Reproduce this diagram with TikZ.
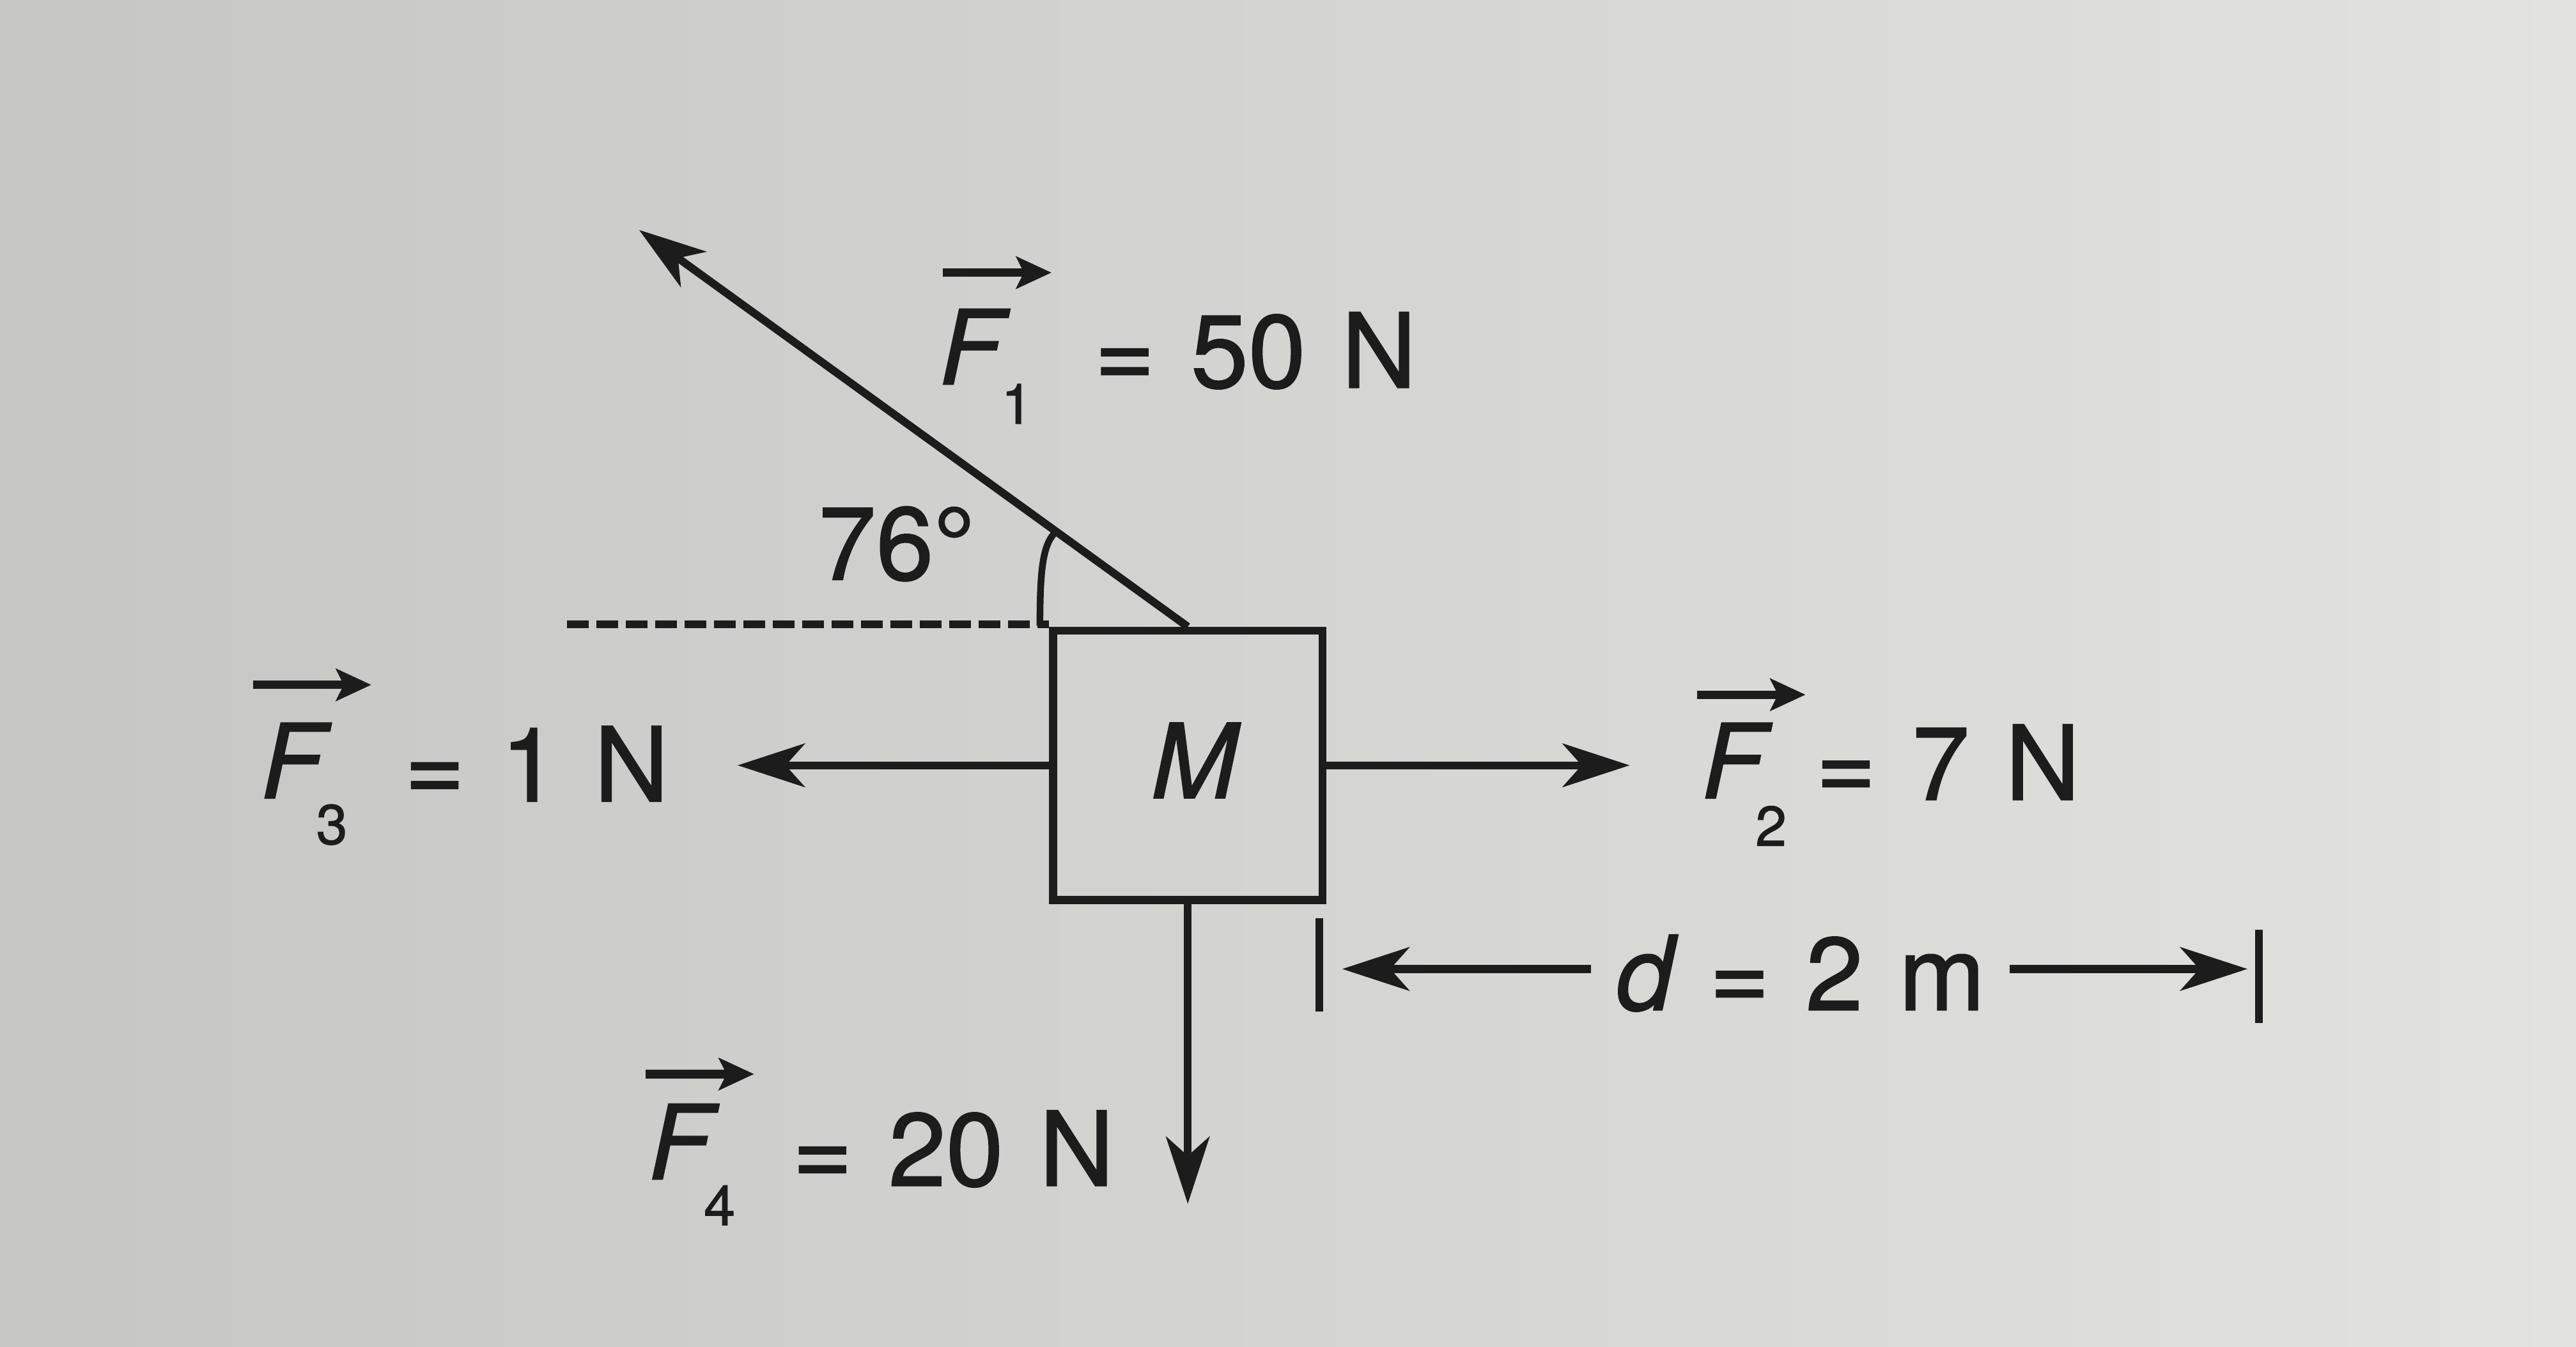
\documentclass[tikz,border=0pt]{standalone}
\usepackage{fontspec}
\setmainfont{TeX Gyre Heros}[FakeBold=1.2, WordSpace=1.25]
\usetikzlibrary{arrows.meta,calc}
\definecolor{ink}{RGB}{28,28,28}
\definecolor{bgL}{RGB}{198,198,196}
\definecolor{bgR}{RGB}{226,226,223}
\begin{document}
\begin{tikzpicture}[x=0.0257cm,y=-0.0257cm,
  every node/.style={inner sep=0pt, text=ink},
  lbl/.style={font=\fontsize{46}{50}\selectfont},
  lblit/.style={font=\fontsize{46}{50}\selectfont\itshape},
  sub/.style={font=\fontsize{25}{28}\selectfont},
  force/.style={draw=ink, line width=3.5pt, -{Stealth[length=1.05cm,width=0.68cm,inset=0.3cm]}},
  vecarr/.style={draw=ink, line width=3.8pt, -{Stealth[length=0.55cm,width=0.5cm,inset=0.12cm]}},
  plain/.style={draw=ink, line width=3.5pt},
  dashline/.style={draw=ink, line width=3.5pt, dash pattern=on 0.34cm off 0.12cm},
]
\shade[left color=bgL, right color=bgR] (0,0) rectangle (1568,820);
\useasboundingbox (0,0) rectangle (1568,820);

% block
\node (box) [plain, minimum width=4.215cm, minimum height=4.215cm] at (723,466) {};
\node (m) [lblit] at (727,463) {M};

% force tips
\coordinate (f1tip) at (389,140);
\coordinate (f2tip) at (992,466);
\coordinate (f3tip) at (449,466);
\coordinate (f4tip) at (723,733);
\coordinate (dashL) at (345,380);

\draw[force] (box.north) -- (f1tip);
\draw[force] (box.east) -- (f2tip);
\draw[force] (box.west) -- (f3tip);
\draw[force] (box.south) -- (f4tip);

% reference line and angle mark
\draw[dashline] (dashL) -- (dashL -| box.west);
\coordinate (angS) at (633,381);
\coordinate (angE) at ($(box.north)!0.24!(f1tip)$);
\draw[plain, line width=3pt] (angS) .. controls (633,345) and (635,331) .. (angE);
\node (ang) [lbl, anchor=base west] at (498,353) {76°};

% F1
\node (f1F) [lblit, anchor=base] at (591,234) {F};
\node (f1s) [sub, anchor=base] at (619,258) {1};
\node (f1v) [lbl, anchor=base west] at (666,236) {= 50 N};
\draw[vecarr] ($(f1F.base)+(-17,-68)$) -- ++(66,0);

% F3
\node (f3F) [lblit, anchor=base] at (178,486) {F};
\node (f3s) [sub, anchor=base] at (202,514) {3};
\node (f3v) [lbl, anchor=base west] at (246,488) {= 1 N};
\draw[vecarr] ($(f3F.base)+(-24,-69)$) -- ++(72,0);

% F2
\node (f2F) [lblit, anchor=base] at (1055,486) {F};
\node (f2s) [sub, anchor=base] at (1078,515) {2};
\node (f2v) [lbl, anchor=base west] at (1105,487) {= 7 N};
\draw[vecarr] ($(f2F.base)+(-22,-63)$) -- ++(66,0);

% F4
\node (f4F) [lblit, anchor=base] at (414,718) {F};
\node (f4s) [sub, anchor=base] at (438,746) {4};
\node (f4v) [lbl, anchor=base west] at (482,722) {= 20 N};
\draw[vecarr] ($(f4F.base)+(-21,-64)$) -- ++(66,0);

% displacement
\node (dlab) [lbl, anchor=base, inner xsep=0.38cm] at (1096,615) {\itshape d\upshape{} = 2 m};
\coordinate (dtipL) at (817,590);
\coordinate (dtipR) at (1368,590);
\coordinate (barL) at (803,559);
\coordinate (barR) at (1375,566);
\draw[force] (dlab.west |- dtipL) -- (dtipL);
\draw[force] (dlab.east |- dtipR) -- (dtipR);
\draw[plain] (barL) -- ++(0,57);
\draw[plain] (barR) -- ++(0,57);
\end{tikzpicture}
\end{document}
